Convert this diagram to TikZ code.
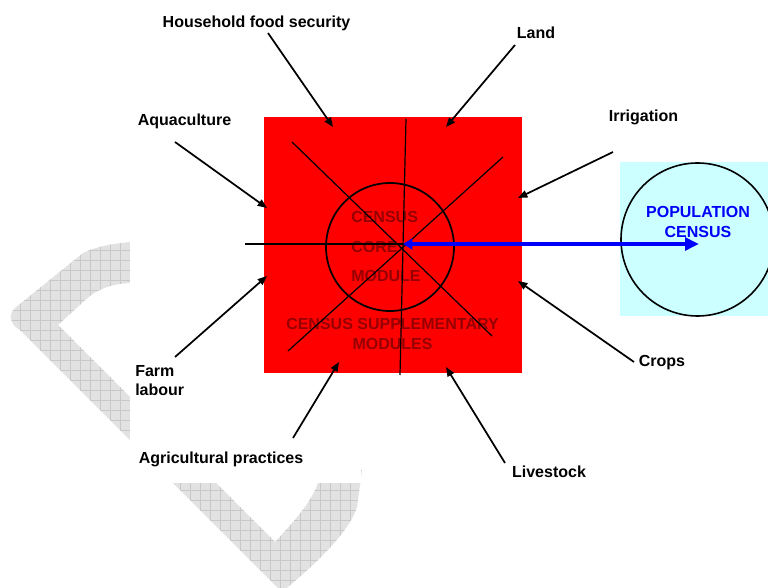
\documentclass[tikz,border=0pt]{standalone}
\usepackage{fontspec}
\setmainfont{Liberation Sans}
\usetikzlibrary{arrows.meta}
\definecolor{cyanbg}{RGB}{204,255,255}
\definecolor{coretext}{RGB}{150,0,0}
\definecolor{wmfill}{RGB}{226,226,226}
\definecolor{wmgrid}{RGB}{200,200,200}
\definecolor{popblue}{RGB}{0,0,250}
\begin{document}
\begin{tikzpicture}[x=0.75pt,y=-0.75pt,
  lbl/.style={font=\bfseries\fontsize{12}{14.25}\selectfont, inner sep=0pt},
  arr/.style={line width=1.3pt, -{Triangle[length=7pt,width=5.5pt]}},
  spoke/.style={line width=0.9pt},
  bluearr/.style={draw=popblue, line width=3.2pt,
    {Triangle[length=7pt,width=8pt]}-{Triangle[length=10.5pt,width=9.5pt]}}]
\useasboundingbox (0,0) rectangle (768,588);

% watermark
\begin{scope}
  \clip (160,238) -- (130,242) .. controls (110,244) and (95,247) .. (83,253)
    -- (15,308) .. controls (8,314) and (10,325) .. (20,330)
    -- (282,592) -- (288,587) .. controls (320,560) and (350,530) .. (357,507)
    -- (362,470) -- (320,470) -- (318,483) .. controls (312,500) and (300,515) .. (275,542)
    -- (58,325) -- (83,302) .. controls (95,290) and (110,284) .. (130,283)
    -- (160,280) -- cycle;
  \fill[wmfill] (0,230) rectangle (400,600);
  \draw[wmgrid, line width=0.5pt, step=7.5pt] (0,230) grid (400,600);
\end{scope}
\fill[white] (130,200) rectangle (361,483);

% population census
\fill[cyanbg] (620,162) rectangle (768,316);
\begin{scope}
  \clip (0,0) rectangle (768,588);
  \node[circle, draw, line width=1.2pt, minimum size=114.75pt, inner sep=0pt] (pop) at (697.5,239.5) {};
\end{scope}

% census square
\node[fill=red, minimum width=193.5pt, minimum height=192pt, inner sep=0pt] (sq) at (393,245) {};

% texts inside
\node[lbl, text=coretext, align=left, anchor=north west, font=\bfseries\fontsize{12}{22}\selectfont] (coretxt) at (351,211.5) {CENSUS\\CORE\\MODULE};
\node[lbl, text=coretext, align=center, anchor=north, font=\bfseries\fontsize{12}{15}\selectfont] (supp) at (392.5,318.5) {CENSUS SUPPLEMENTARY\\MODULES};

% spokes
\coordinate (hub) at (403,244);
\draw[spoke] (245,244) -- (630,244);
\draw[spoke] (406,119) -- (400,375);
\draw[spoke] (292,142) -- (492,336);
\draw[spoke] (503,157) -- (288,351);
\node[circle, draw, line width=1.3pt, minimum size=96pt, inner sep=0pt] (core) at (390,247) {};

% population text and link
\node[lbl, text=popblue, align=center, anchor=north, font=\bfseries\fontsize{12}{15}\selectfont] (poptxt) at (698,206.5) {POPULATION\\CENSUS};
\coordinate (poptip) at (699,244);
\draw[bluearr] (hub) -- (poptip);

% labels
\node[lbl, anchor=base] (hfs) at (256.5,28) {Household food security};
\node[lbl, anchor=base] (land) at (536,39) {Land};
\node[lbl, anchor=base] (aqua) at (184.5,126) {Aquaculture};
\node[lbl, anchor=base] (irr) at (643.5,122) {Irrigation};
\node[lbl, anchor=north west, align=left] (farm) at (135,365.5) {Farm\\labour};
\node[lbl, anchor=base] (agri) at (221,463) {Agricultural practices};
\node[lbl, anchor=base] (crops) at (662,366) {Crops};
\node[lbl, anchor=base] (live) at (549,477) {Livestock};

% arrow ends
\coordinate (hfsT) at (268,33);   \coordinate (hfsH) at (333,127);
\coordinate (landT) at (515,45);  \coordinate (landH) at (446,127);
\coordinate (aquaT) at (175,142); \coordinate (aquaH) at (267,208);
\coordinate (irrT) at (613,152);  \coordinate (irrH) at (518,198);
\coordinate (farmT) at (175,357); \coordinate (farmH) at (267,276);
\coordinate (agriT) at (293,438); \coordinate (agriH) at (339,362);
\coordinate (cropsT) at (634,362);\coordinate (cropsH) at (518,281);
\coordinate (liveT) at (505,463); \coordinate (liveH) at (446,367);

\draw[arr] (hfsT) -- (hfsH);
\draw[arr] (landT) -- (landH);
\draw[arr] (aquaT) -- (aquaH);
\draw[arr] (irrT) -- (irrH);
\draw[arr] (farmT) -- (farmH);
\draw[arr] (agriT) -- (agriH);
\draw[arr] (cropsT) -- (cropsH);
\draw[arr] (liveT) -- (liveH);
\end{tikzpicture}
\end{document}
